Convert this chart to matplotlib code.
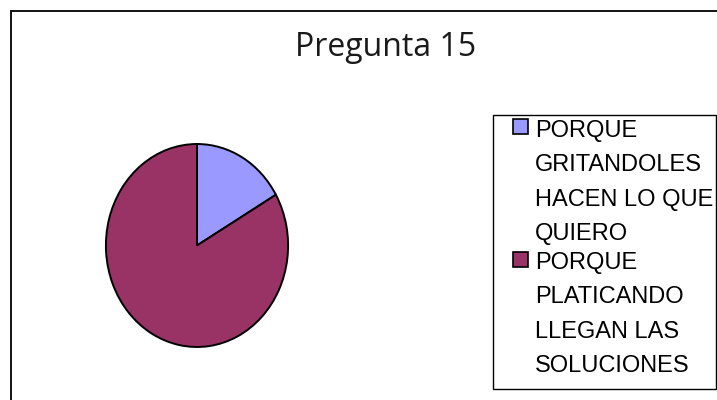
#!/usr/bin/env python3
"""Pie chart for survey question 15."""

import matplotlib
matplotlib.use("Agg")
import matplotlib.pyplot as plt
from matplotlib.patches import Rectangle

TITLE = "Pregunta 15"
LABELS = [
    "PORQUE\nGRITANDOLES\nHACEN LO QUE\nQUIERO",
    "PORQUE\nPLATICANDO\nLLEGAN LAS\nSOLUCIONES",
]
VALUES = [2, 10]
COLORS = ["#9999FF", "#993366"]

W, H = 717, 400


def fx(px):
    return px / W


def fy(py):
    return 1 - py / H


fig = plt.figure(figsize=(W / 100, H / 100), dpi=100)
fig.patch.set_facecolor("white")

# outer chart frame (right and bottom edges run off the image)
fig.patches.append(Rectangle((fx(10.5), fy(430)), fx(760), fy(10.5) - fy(430),
                             transform=fig.transFigure, fill=False,
                             edgecolor="black", linewidth=1.3))

fig.text(fx(386), fy(56), TITLE, ha="center", va="baseline",
         fontsize=23, family="Open Sans", fontweight="normal", color="#1a1a1a")

# pie (slightly taller than wide, as in the original)
ax = fig.add_axes([fx(105), fy(348), fx(289) - fx(105), fy(143) - fy(348)])
ax.pie(VALUES, colors=COLORS, startangle=90, counterclock=False,
       wedgeprops=dict(edgecolor="black", linewidth=1.4))
ax.set_aspect("auto")
ax.set_xlim(-1.01, 1.01)
ax.set_ylim(-1.01, 1.01)

# legend box
fig.patches.append(Rectangle((fx(492.5), fy(389)), fx(716) - fx(492.5), fy(115) - fy(389),
                             transform=fig.transFigure, fill=False,
                             edgecolor="black", linewidth=1.0))

starts = [136.5, 268.5]
marker_tops = [119, 252]
for label, color, base, mtop in zip(LABELS, COLORS, starts, marker_tops):
    fig.patches.append(Rectangle((fx(512.5), fy(mtop + 15)), fx(15), fy(mtop) - fy(mtop + 15),
                                 transform=fig.transFigure, facecolor=color,
                                 edgecolor="black", linewidth=1.2))
    for i, line in enumerate(label.split("\n")):
        fig.text(fx(535), fy(base + i * 34.5), line, ha="left", va="baseline",
                 fontsize=17, family="Liberation Sans", color="black")

fig.savefig("out.png", dpi=100)
